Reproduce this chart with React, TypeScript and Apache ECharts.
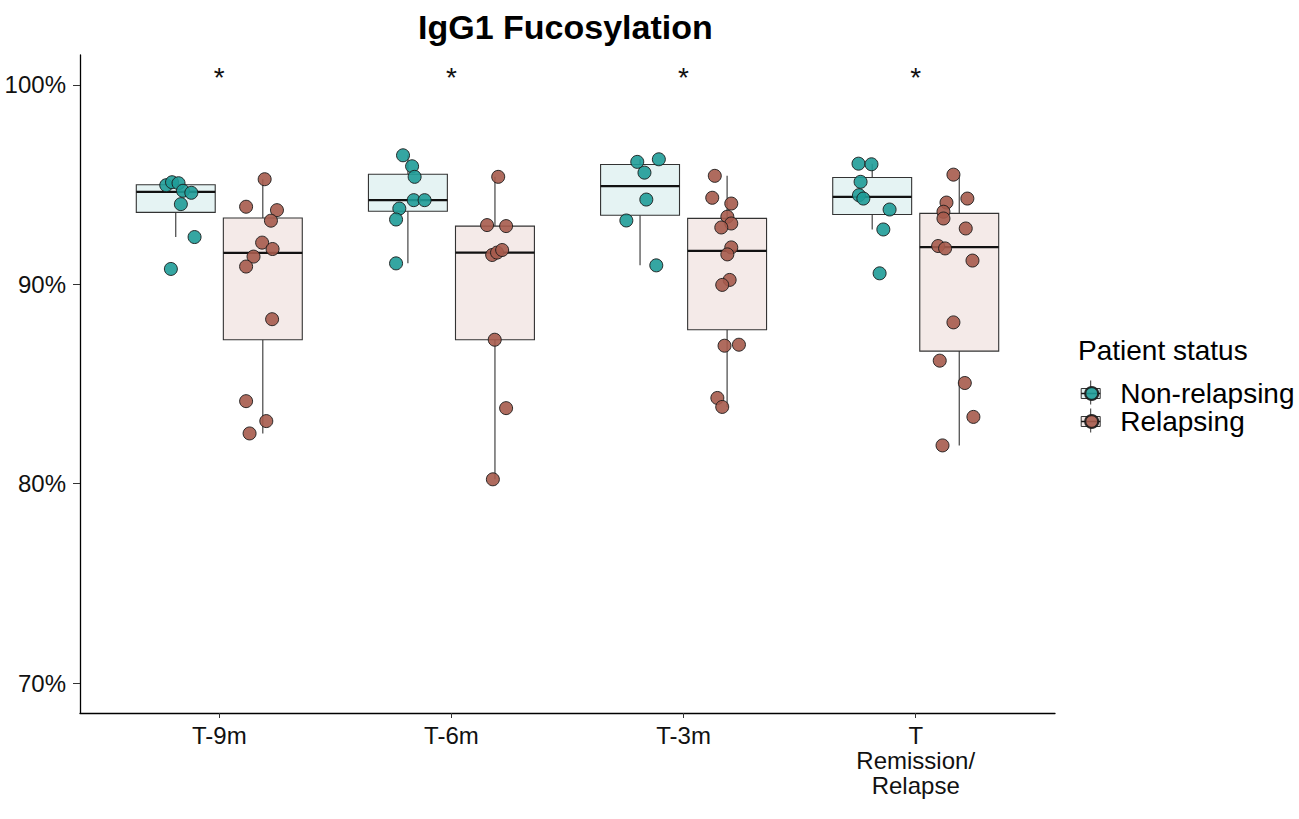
import React, { useEffect, useRef } from "react";
import * as echarts from "echarts";

const categories = ["T-9m", "T-6m", "T-3m", "T\nRemission/\nRelapse"];
const groupNames = ["Non-relapsing", "Relapsing"];
const yTicks = [70, 80, 90, 100];
const chartTitle = "IgG1 Fucosylation";
const legendTitle = "Patient status";

// Non-relapsing values (%) and horizontal jitter (category units)
const nonRelT9m = [94.97, 95.12, 95.07, 94.69, 94.59, 94.02, 92.37, 90.77];
const nonRelT9mJitter = [-0.041, -0.016, 0.012, 0.031, 0.067, 0.022, 0.081, -0.021];
const nonRelT6m = [96.47, 95.92, 95.39, 94.22, 94.22, 93.8, 93.25, 91.05];
const nonRelT6mJitter = [-0.021, 0.018, 0.029, 0.025, 0.072, -0.037, -0.051, -0.051];
const nonRelT3m = [96.14, 96.27, 95.6, 94.25, 93.2, 90.95];
const nonRelT3mJitter = [-0.012, 0.081, 0.019, 0.027, -0.059, 0.07];
const nonRelT0 = [96.05, 96.02, 95.14, 94.47, 94.3, 93.75, 92.75, 90.55];
const nonRelT0Jitter = [-0.059, -0.003, -0.05, -0.057, -0.038, 0.075, 0.048, 0.032];

// Relapsing values (%) and horizontal jitter
const relT9m = [95.27, 93.89, 93.72, 93.19, 92.09, 91.77, 91.39, 90.89, 88.25, 84.14, 83.14, 82.52];
const relT9mJitter = [0.008, -0.072, 0.061, 0.035, -0.003, 0.042, -0.04, -0.072, 0.04, -0.072, 0.015, -0.057];
const relT6m = [95.39, 92.97, 92.92, 91.47, 91.59, 91.72, 87.22, 83.79, 80.22];
const relT6mJitter = [0.014, -0.034, 0.048, -0.012, 0.009, 0.031, -0.001, 0.048, -0.009];
const relT3m = [95.44, 94.34, 94.05, 93.39, 93.05, 92.85, 91.85, 91.5, 90.22, 89.97, 86.92, 86.97, 84.3, 83.85];
const relT3mJitter = [-0.053, -0.064, 0.018, 0.001, 0.018, -0.025, 0.018, 0.001, 0.011, -0.021, -0.011, 0.051, -0.042, -0.021];
const relT0 = [95.5, 94.3, 94.1, 93.64, 93.3, 92.8, 91.92, 91.8, 91.19, 88.09, 86.17, 85.05, 83.35, 81.92];
const relT0Jitter = [-0.025, 0.035, -0.055, -0.068, -0.068, 0.028, -0.091, -0.061, 0.057, -0.025, -0.084, 0.024, 0.061, -0.072];

// significance marks
const sigLabels = ["*", "*", "*", "*"];
const sigY = [100.38, 100.38, 100.38, 100.38];

const nonRelapsing = [nonRelT9m, nonRelT6m, nonRelT3m, nonRelT0];
const nonRelapsingJitter = [nonRelT9mJitter, nonRelT6mJitter, nonRelT3mJitter, nonRelT0Jitter];
const relapsing = [relT9m, relT6m, relT3m, relT0];
const relapsingJitter = [relT9mJitter, relT6mJitter, relT3mJitter, relT0Jitter];

const FONT = "'Liberation Sans', Arial, sans-serif";
const pointColors = ["#1f9c98", "#a65b4d"];
const boxFills = ["#e5f3f3", "#f4eae8"];
const DODGE = 0.1875;
const BOX_HALF = 0.17;

function quantile(sorted: number[], p: number) {
  const h = (sorted.length - 1) * p;
  const lo = Math.floor(h);
  const hi = Math.min(lo + 1, sorted.length - 1);
  return sorted[lo] + (h - lo) * (sorted[hi] - sorted[lo]);
}

function boxStats(values: number[]) {
  const s = [...values].sort((a, b) => a - b);
  const q1 = quantile(s, 0.25);
  const med = quantile(s, 0.5);
  const q3 = quantile(s, 0.75);
  const iqr = q3 - q1;
  const low = Math.min(...s.filter((v) => v >= q1 - 1.5 * iqr));
  const high = Math.max(...s.filter((v) => v <= q3 + 1.5 * iqr));
  return [low, q1, med, q3, high];
}

export default function App() {
  const ref = useRef<HTMLDivElement>(null);

  useEffect(() => {
    if (!ref.current) return;
    const chart = echarts.init(ref.current, null, { renderer: "svg" });

    const boxData: number[][] = [];
    [nonRelapsing, relapsing].forEach((grp, g) => {
      grp.forEach((vals, i) => {
        const x = i + (g === 0 ? -DODGE : DODGE);
        boxData.push([x, ...boxStats(vals), g]);
      });
    });

    const scatterData = (grp: number[][], jit: number[][], g: number) => {
      const out: number[][] = [];
      grp.forEach((vals, i) => {
        vals.forEach((v, j) => {
          out.push([i + (g === 0 ? -DODGE : DODGE) + jit[i][j], v]);
        });
      });
      return out;
    };

    const legendCx = 1090.7;
    const legendTop = 379.5;
    const rowH = 28;
    const rowGap = 0;
    const legendCy = [legendTop + rowH / 2, legendTop + rowH + rowGap + rowH / 2];
    const keyGraphics: any[] = [];
    legendCy.forEach((cy, r) => {
      keyGraphics.push({
        type: "line",
        z: 1,
        shape: { x1: legendCx, y1: cy - 13, x2: legendCx, y2: cy + 11 },
        style: { stroke: "#333", lineWidth: 1 },
      });
      keyGraphics.push({
        type: "rect",
        z: 1,
        shape: { x: legendCx - 9.5, y: cy - 5, width: 19, height: 10 },
        style: { fill: boxFills[r], stroke: "#333", lineWidth: 1 },
      });
      keyGraphics.push({
        type: "line",
        z: 1,
        shape: { x1: legendCx - 9.5, y1: cy, x2: legendCx + 9.5, y2: cy },
        style: { stroke: "#111", lineWidth: 1.5 },
      });
    });

    chart.setOption({
      animation: false,
      backgroundColor: "#ffffff",
      textStyle: { fontFamily: FONT },
      title: [
        {
          text: chartTitle,
          left: 418,
          top: 9.5,
          padding: 0,
          textStyle: { fontSize: 34, fontWeight: "bold", color: "#000", fontFamily: FONT, lineHeight: 34 },
        },
        {
          text: legendTitle,
          left: 1078,
          top: 336,
          padding: 0,
          textStyle: { fontSize: 28, fontWeight: "normal", color: "#000", fontFamily: FONT, lineHeight: 28 },
        },
      ],
      legend: {
        orient: "vertical",
        left: legendCx - 6.5,
        top: legendTop,
        padding: 0,
        itemWidth: 13,
        itemHeight: 13,
        itemGap: rowGap,
        selectedMode: false,
        data: groupNames.map((n) => ({ name: n, icon: "circle" })),
        textStyle: { fontSize: 28, color: "#000", fontFamily: FONT, padding: [0, 0, 0, 17] },
      },
      graphic: keyGraphics,
      grid: { left: 80, right: 244, top: 55, bottom: 106, containLabel: false, outerBoundsMode: "none" },
      xAxis: {
        type: "value",
        min: -0.6,
        max: 3.6,
        splitLine: { show: false },
        axisLine: { show: true, onZero: false, lineStyle: { color: "#000", width: 1.3 } },
        axisTick: { show: true, customValues: [0, 1, 2, 3], length: 5, lineStyle: { color: "#333" } },
        axisLabel: {
          customValues: [0, 1, 2, 3],
          formatter: (v: number) => categories[Math.round(v)] ?? "",
          fontSize: 24,
          lineHeight: 25,
          margin: 10,
          color: "#111",
          fontFamily: FONT,
        },
      },
      yAxis: {
        type: "value",
        min: 68.5,
        max: 101.5,
        splitLine: { show: false },
        axisLine: { show: true, onZero: false, lineStyle: { color: "#000", width: 1.3 } },
        axisTick: { show: true, customValues: yTicks, length: 7, lineStyle: { color: "#333" } },
        axisLabel: {
          customValues: yTicks,
          formatter: (v: number) => `${v}%`,
          fontSize: 24,
          margin: 14,
          padding: [5, 0, 0, 0],
          color: "#111",
          fontFamily: FONT,
        },
      },
      series: [
        {
          type: "custom",
          name: "boxes",
          z: 2,
          silent: true,
          data: boxData,
          encode: { x: 0, y: [1, 2, 3, 4, 5] },
          renderItem: (_params: any, api: any) => {
            const x = api.value(0);
            const g = api.value(6);
            const pLow = api.coord([x, api.value(1)]);
            const pQ1 = api.coord([x, api.value(2)]);
            const pMed = api.coord([x, api.value(3)]);
            const pQ3 = api.coord([x, api.value(4)]);
            const pHigh = api.coord([x, api.value(5)]);
            const left = api.coord([x - BOX_HALF, api.value(3)])[0];
            const right = api.coord([x + BOX_HALF, api.value(3)])[0];
            return {
              type: "group",
              children: [
                { type: "line", shape: { x1: pLow[0], y1: pLow[1], x2: pQ1[0], y2: pQ1[1] }, style: { stroke: "#333", lineWidth: 1.1 } },
                { type: "line", shape: { x1: pQ3[0], y1: pQ3[1], x2: pHigh[0], y2: pHigh[1] }, style: { stroke: "#333", lineWidth: 1.1 } },
                {
                  type: "rect",
                  shape: { x: left, y: pQ3[1], width: right - left, height: pQ1[1] - pQ3[1] },
                  style: { fill: boxFills[g], stroke: "#333", lineWidth: 1.1 },
                },
                { type: "line", shape: { x1: left, y1: pMed[1], x2: right, y2: pMed[1] }, style: { stroke: "#111", lineWidth: 2.2 } },
              ],
            };
          },
        },
        {
          type: "scatter",
          name: groupNames[0],
          z: 3,
          symbol: "circle",
          symbolSize: 13,
          data: scatterData(nonRelapsing, nonRelapsingJitter, 0),
          itemStyle: { color: pointColors[0], borderColor: "#1a1a1a", borderWidth: 1, opacity: 0.9 },
        },
        {
          type: "scatter",
          name: groupNames[1],
          z: 3,
          symbol: "circle",
          symbolSize: 13,
          data: scatterData(relapsing, relapsingJitter, 1),
          itemStyle: { color: pointColors[1], borderColor: "#1a1a1a", borderWidth: 1, opacity: 0.9 },
        },
        {
          type: "custom",
          name: "significance",
          z: 4,
          silent: true,
          data: sigY.map((y, i) => [i, y]),
          encode: { x: 0, y: 1 },
          renderItem: (params: any, api: any) => {
            const p = api.coord([api.value(0), api.value(1)]);
            return {
              type: "text",
              x: p[0],
              y: p[1],
              style: {
                text: sigLabels[params.dataIndex],
                fontSize: 28,
                fontFamily: FONT,
                fill: "#111",
                align: "center",
                verticalAlign: "middle",
              },
            };
          },
        },
      ],
    });

    return () => chart.dispose();
  }, []);

  return <div ref={ref} style={{ position: "absolute", left: 0, top: 0, width: 1299, height: 819 }} />;
}
